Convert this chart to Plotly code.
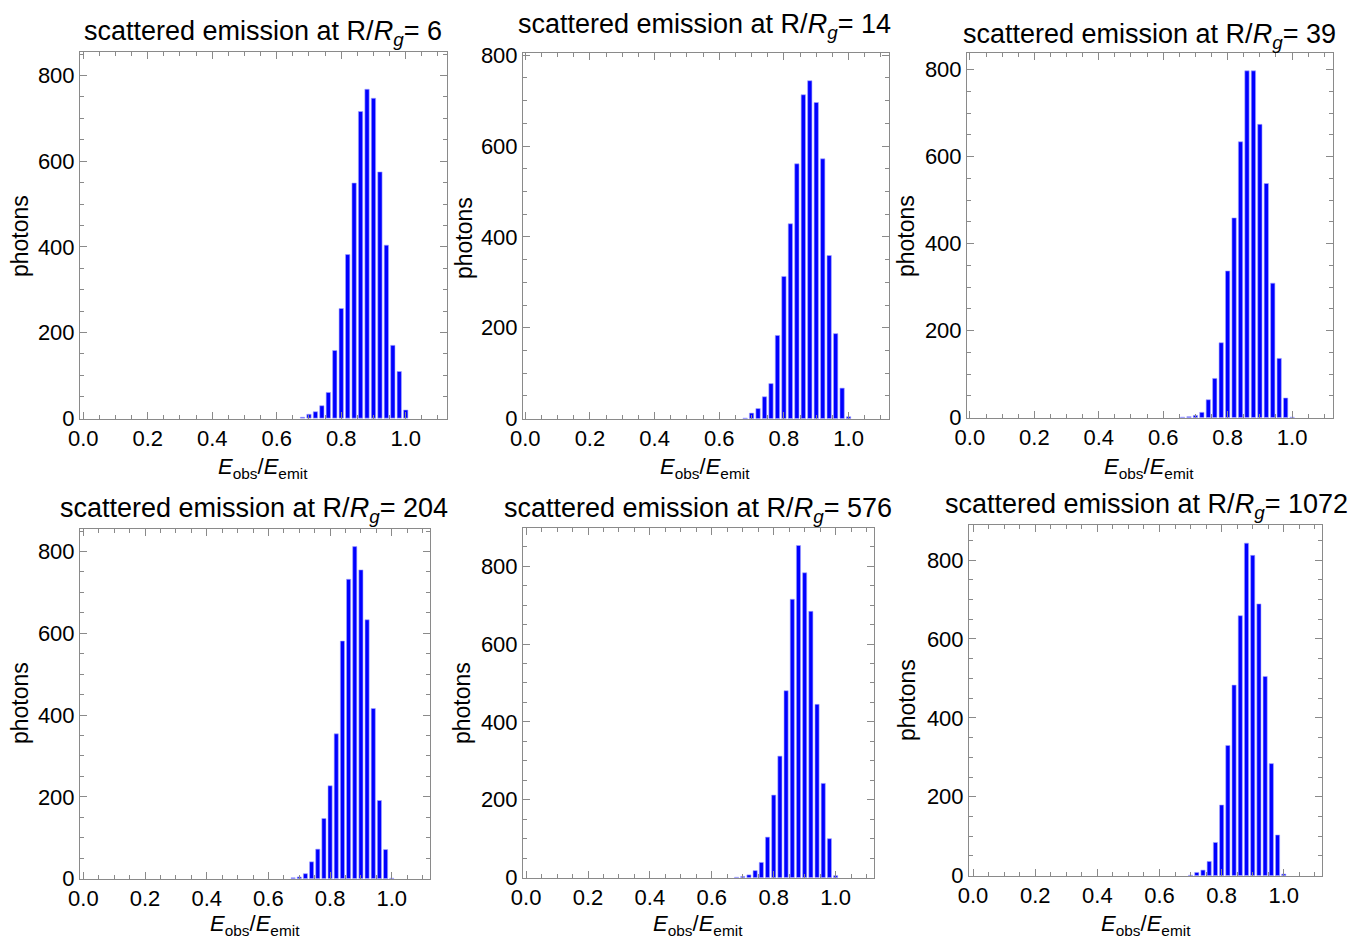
import plotly.graph_objects as go

# ---- data ----
radii = [6, 14, 39, 204, 576, 1072]

bins_a = [0.68, 0.70, 0.72, 0.74, 0.76, 0.78, 0.80, 0.82, 0.84, 0.86,
          0.88, 0.90, 0.92, 0.94, 0.96, 0.98, 1.00]
bins_b = [0.66, 0.68, 0.70, 0.72, 0.74, 0.76, 0.78, 0.80, 0.82, 0.84,
          0.86, 0.88, 0.90, 0.92, 0.94, 0.96, 0.98, 1.00]
bins_c = [0.70, 0.72, 0.74, 0.76, 0.78, 0.80, 0.82, 0.84, 0.86, 0.88,
          0.90, 0.92, 0.94, 0.96, 0.98, 1.00]

counts_r6 = [2, 9, 15, 29, 60, 158, 256, 382, 549, 716, 768, 747, 575, 404, 170, 109, 19]
counts_r14 = [1, 12, 22, 48, 77, 183, 313, 429, 561, 713, 744, 696, 572, 359, 187, 67, 4]
counts_r39 = [1, 2, 5, 12, 41, 90, 172, 337, 459, 634, 797, 797, 674, 538, 309, 136, 45, 1]
counts_r204 = [2, 4, 12, 41, 72, 147, 227, 354, 581, 732, 812, 755, 633, 416, 191, 71, 1]
counts_r576 = [1, 3, 7, 18, 39, 104, 212, 312, 480, 715, 853, 783, 684, 445, 242, 100, 5]
counts_r1072 = [1, 8, 14, 36, 84, 179, 330, 483, 659, 843, 812, 689, 505, 284, 103, 4]

panels = [
    (radii[0], bins_a, counts_r6),
    (radii[1], bins_a, counts_r14),
    (radii[2], bins_b, counts_r39),
    (radii[3], bins_a, counts_r204),
    (radii[4], bins_a, counts_r576),
    (radii[5], bins_c, counts_r1072),
]

# ---- layout geometry (pixels) ----
W, H = 1356, 942
frames = [  # left, right, top, bottom
    (80, 447, 52, 419),
    (523, 889, 53, 419),
    (967, 1333, 53, 418),
    (80, 430, 529, 879),
    (523, 874, 528, 878),
    (969, 1322, 525, 876),
]
xranges = [(-0.010, 1.128), (-0.007, 1.125), (-0.009, 1.127),
           (-0.011, 1.124), (-0.010, 1.124), (-0.013, 1.123)]
yranges = [(-2, 855), (-1, 805), (-1, 838), (-1, 855), (-1, 898), (-1, 889)]
title_pos = [(263, 33), (704, 26), (1149, 36), (254, 510), (698, 510), (1146, 506)]
ytitle_pos = [(20, 236), (464, 238), (906, 236), (20, 703), (462, 703), (907, 700)]
xtitle_pos = [(263, 468), (705, 468), (1149, 468), (255, 925), (698, 925), (1146, 925)]

FONT = "Liberation Sans, Arial, sans-serif"
FRAME = "#8a8a8a"

fig = go.Figure()
annotations = []
for i, (r, xs, ys) in enumerate(panels):
    k = "" if i == 0 else str(i + 1)
    fig.add_trace(go.Bar(
        x=xs, y=ys, xaxis="x" + k, yaxis="y" + k,
        marker=dict(color="#0000ff", line=dict(color="#a8a8ff", width=0.6)),
        showlegend=False, hoverinfo="x+y",
    ))
    l, rr, t, b = frames[i]
    xa = dict(
        domain=[l / W, rr / W], anchor="y" + k, range=list(xranges[i]),
        automargin=False,
        showline=True, linecolor=FRAME, linewidth=1, mirror="allticks",
        ticks="inside", ticklen=7, tickcolor=FRAME, tickwidth=1,
        tick0=0, dtick=0.2, tickformat=".1f", showgrid=False, zeroline=False,
        tickfont=dict(size=22, color="black", family=FONT),
        minor=dict(ticks="inside", dtick=0.05, tick0=0, ticklen=4, tickcolor=FRAME, showgrid=False),
    )
    ya = dict(
        domain=[1 - b / H, 1 - t / H], anchor="x" + k, range=list(yranges[i]),
        automargin=False,
        showline=True, linecolor=FRAME, linewidth=1, mirror="allticks",
        ticks="inside", ticklen=7, tickcolor=FRAME, tickwidth=1,
        tick0=0, dtick=200, showgrid=False, zeroline=False,
        tickfont=dict(size=22, color="black", family=FONT),
        minor=dict(ticks="inside", dtick=50, tick0=0, ticklen=4, tickcolor=FRAME, showgrid=False),
    )
    fig.update_layout(**{"xaxis" + k: xa, "yaxis" + k: ya})

    tx, ty = title_pos[i]
    annotations.append(dict(
        text="scattered emission at R/<i>R</i><sub><i>g</i></sub>= %d" % r,
        x=tx / W, y=1 - ty / H, xref="paper", yref="paper",
        xanchor="center", yanchor="middle", showarrow=False,
        font=dict(size=27, color="black", family=FONT),
    ))
    px, py = ytitle_pos[i]
    annotations.append(dict(
        text="photons", x=px / W, y=1 - py / H, xref="paper", yref="paper",
        xanchor="center", yanchor="middle", showarrow=False, textangle=-90,
        font=dict(size=23, color="black", family=FONT),
    ))
    qx, qy = xtitle_pos[i]
    annotations.append(dict(
        text="<i>E</i><sub>obs</sub>/<i>E</i><sub>emit</sub>",
        x=qx / W, y=1 - qy / H, xref="paper", yref="paper",
        xanchor="center", yanchor="middle", showarrow=False,
        font=dict(size=22, color="black", family=FONT),
    ))

fig.update_layout(
    width=W, height=H, margin=dict(l=0, r=0, t=0, b=0, autoexpand=False),
    paper_bgcolor="white", plot_bgcolor="white",
    bargap=0.33, annotations=annotations,
    font=dict(family=FONT, color="black"),
)

fig.write_html("out.html")
